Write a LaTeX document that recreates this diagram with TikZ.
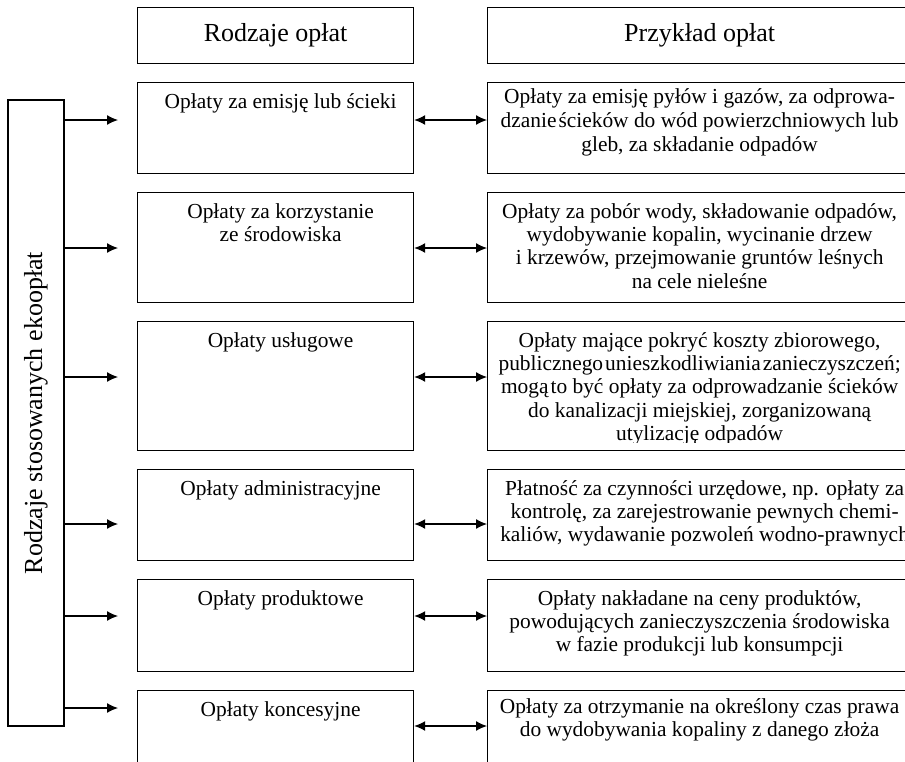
\documentclass[tikz,border=0pt]{standalone}
\usepackage{fontspec}
\setmainfont{Liberation Serif}
\usetikzlibrary{arrows.meta, positioning}

\begin{document}
\begin{tikzpicture}[x=0.5pt, y=-0.5pt, line width=0.6pt,
        naglowek/.style={draw, anchor=north west, minimum height=28pt, font=\fontsize{13}{15}\selectfont},
        rodzaj/.style={draw, anchor=north west, minimum width=138pt},
        przyklad/.style={draw, anchor=north west, minimum width=212pt},
        opis/.style={anchor=north, inner sep=0pt, align=center, font=\fontsize{10.7}{11.6}\selectfont},
        strzalka/.style={-{Latex[length=5.5pt, width=5pt]}},
        obustr/.style={{Latex[length=5.5pt, width=5pt]}-{Latex[length=5.5pt, width=5pt]}}]
        \clip (0,0) rectangle (905,761);
        % naglowki kolumn
        \node[naglowek, minimum width=138pt] (hr) at (137,7) {Rodzaje opłat};
        \node[naglowek, minimum width=212pt] (hp) at (487,7) {Przykład opłat};
        % ramka boczna
        \node[draw, minimum width=28pt, minimum height=313pt, font=\fontsize{13}{15}\selectfont] (eko) at (36,413) {\rotatebox{90}{Rodzaje stosowanych ekoopłat}};

        % rodzaje oplat
        \node[rodzaj, minimum height=45.5pt] (r1) at (137,82) {};
        \node[rodzaj, minimum height=55pt] (r2) at (137,192) {};
        \node[rodzaj, minimum height=64.5pt] (r3) at (137,321) {};
        \node[rodzaj, minimum height=45.5pt] (r4) at (137,469) {};
        \node[rodzaj, minimum height=46pt] (r5) at (137,579) {};
        \node[rodzaj, minimum height=46pt] (r6) at (137,690) {};
        \node[opis, xshift=2.5pt, yshift=-5.5pt] (r1t) at (r1.north) {Opłaty za emisję lub ścieki};
        \node[opis, xshift=2.5pt, yshift=-5.5pt] (r2t) at (r2.north) {Opłaty za korzystanie\\ze środowiska};
        \node[opis, xshift=2.5pt, yshift=-5.5pt] (r3t) at (r3.north) {Opłaty usługowe};
        \node[opis, xshift=2.5pt, yshift=-5.5pt] (r4t) at (r4.north) {Opłaty administracyjne};
        \node[opis, xshift=2.5pt, yshift=-5.5pt] (r5t) at (r5.north) {Opłaty produktowe};
        \node[opis, xshift=2.5pt, yshift=-5.5pt] (r6t) at (r6.north) {Opłaty koncesyjne};

        % przyklady oplat
        \node[przyklad, minimum height=45.5pt] (p1) at (487,82) {};
        \node[przyklad, minimum height=55pt] (p2) at (487,192) {};
        \node[przyklad, minimum height=64.5pt] (p3) at (487,321) {};
        \node[przyklad, minimum height=45.5pt] (p4) at (487,469) {};
        \node[przyklad, minimum height=46pt] (p5) at (487,579) {};
        \node[przyklad, minimum height=46pt] (p6) at (487,690) {};
        \node[opis, yshift=-3pt, font=\fontsize{10.7}{12}\selectfont] (p1t) at (p1.north) {Opłaty za emisję pyłów i gazów, za odprowa-\\dzanie\kern1pt ścieków do wód powierzchniowych lub\\gleb, za składanie odpadów};
        \node[opis, yshift=-5.5pt] (p2t) at (p2.north) {Opłaty za pobór wody, składowanie odpadów,\\wydobywanie kopalin, wycinanie drzew\\i krzewów, przejmowanie gruntów leśnych\\na cele nieleśne};
        \begin{scope}
            \clip (p3.north west) rectangle ([yshift=4.5pt]p3.south east);
            \node[opis, yshift=-5.5pt] (p3t) at (p3.north) {Opłaty mające pokryć koszty zbiorowego,\\publicznego\kern1pt unieszkodliwiania\kern1pt zanieczyszczeń;\\mogą\kern1pt to być opłaty za odprowadzanie ścieków\\do kanalizacji miejskiej, zorganizowaną\\utylizację odpadów};
        \end{scope}
        \node[opis, xshift=2.5pt, yshift=-5.5pt] (p4t) at (p4.north) {Płatność za czynności urzędowe, np. opłaty za\\kontrolę, za zarejestrowanie pewnych chemi-\\kaliów, wydawanie pozwoleń wodno-prawnych};
        \node[opis, yshift=-5.5pt] (p5t) at (p5.north) {Opłaty nakładane na ceny produktów,\\powodujących zanieczyszczenia środowiska\\w fazie produkcji lub konsumpcji};
        \node[opis, yshift=-4pt] (p6t) at (p6.north) {Opłaty za otrzymanie na określony czas prawa\\do wydobywania kopaliny z danego złoża};

        % wysokosci strzalek
        \coordinate (s1) at (0,120);
        \coordinate (s2) at (0,248);
        \coordinate (s3) at (0,377);
        \coordinate (s4) at (0,524);
        \coordinate (s5) at (0,616);
        \coordinate (s6) at (0,708);
        \coordinate (d6) at (0,726);

        \path[strzalka] (eko.east |- s1) edge [shorten >=9.5pt] (r1.west |- s1);
        \path[strzalka] (eko.east |- s2) edge [shorten >=9.5pt] (r2.west |- s2);
        \path[strzalka] (eko.east |- s3) edge [shorten >=9.5pt] (r3.west |- s3);
        \path[strzalka] (eko.east |- s4) edge [shorten >=9.5pt] (r4.west |- s4);
        \path[strzalka] (eko.east |- s5) edge [shorten >=9.5pt] (r5.west |- s5);
        \path[strzalka] (eko.east |- s6) edge [shorten >=9.5pt] (r6.west |- s6);
        \path[obustr] (r1.east |- s1) edge (p1.west |- s1);
        \path[obustr] (r2.east |- s2) edge (p2.west |- s2);
        \path[obustr] (r3.east |- s3) edge (p3.west |- s3);
        \path[obustr] (r4.east |- s4) edge (p4.west |- s4);
        \path[obustr] (r5.east |- s5) edge (p5.west |- s5);
        \path[obustr] (r6.east |- d6) edge (p6.west |- d6);
\end{tikzpicture}
\end{document}
